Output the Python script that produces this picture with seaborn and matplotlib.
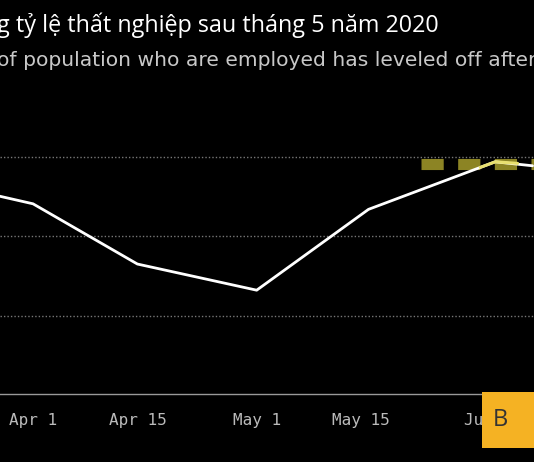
import pandas as pd
import numpy as np
import matplotlib
matplotlib.use("Agg")
import matplotlib.pyplot as plt
import seaborn as sns

# Data
dates = pd.to_datetime(["2020-03-25", "2020-04-01", "2020-04-15", "2020-05-01",
                        "2020-05-16", "2020-06-02", "2020-06-07"])
values = [2.56, 2.41, 1.65, 1.32, 2.34, 2.94, 2.89]
highlight_dates = pd.to_datetime(["2020-05-31", "2020-06-02", "2020-06-05"])
highlight_values = [2.87, 2.94, 2.92]
ref_dates = pd.to_datetime(["2020-05-23", "2020-06-08"])
ref_values = [2.91, 2.91]
grid_levels = [1, 2, 3]
tick_dates = pd.to_datetime(["2020-04-01", "2020-04-15", "2020-05-01", "2020-05-15", "2020-06-01"])
tick_labels = ["Apr 1", "Apr 15", "May 1", "May 15", "Jun 1"]

sns.set_theme(style="dark")
plt.rcParams["font.family"] = ["Open Sans", "DejaVu Sans"]

fig = plt.figure(figsize=(5.34, 4.62), dpi=100, facecolor="black")
ax = fig.add_axes([0, 68 / 462, 1, 294 / 462])
ax.set_facecolor("black")

for g in grid_levels:
    ax.axhline(g, color="#777777", lw=1, ls=(0, (1, 1.5)), zorder=1)

ref = pd.DataFrame({"date": ref_dates, "v": ref_values})
sns.lineplot(data=ref, x="date", y="v", ax=ax, color="#8c8424", lw=8, zorder=2)
ax.lines[-1].set_linestyle((0, (2.0, 1.3)))

df = pd.DataFrame({"date": dates, "v": values})
sns.lineplot(data=df, x="date", y="v", ax=ax, color="white", lw=2, zorder=3)
hl = pd.DataFrame({"date": highlight_dates, "v": highlight_values})
sns.lineplot(data=hl, x="date", y="v", ax=ax, color="#e8e070", lw=2.2, zorder=4)

x0 = pd.Timestamp("2020-04-01")
ax.set_xlim(x0 - pd.Timedelta(days=4.43), x0 + pd.Timedelta(days=67.2))
ax.set_ylim(0.01, 3.72)
ax.set_xticks(tick_dates)
ax.set_xticklabels(tick_labels, fontsize=11.5, family="DejaVu Sans Mono")
ax.set_yticks([])
ax.tick_params(axis="x", colors="#999999", length=4, pad=10, labelcolor="#bbbbbb")
ax.set_xlabel("")
ax.set_ylabel("")
for s in ["top", "right", "left"]:
    ax.spines[s].set_visible(False)
ax.spines["bottom"].set_color("#999999")
ax.spines["bottom"].set_linewidth(1)
ax.grid(False)

fig.text(-0.005, 1 - 32 / 462, "g tỷ lệ thất nghiệp sau tháng 5 năm 2020",
         color="white", fontsize=16.8, ha="left", va="baseline")
fig.text(-0.005, 1 - 66 / 462, "of population who are employed has leveled off after",
         color="#c8c8c8", fontsize=14.6, ha="left", va="baseline", family="DejaVu Sans")

# Bloomberg logo box, drawn on top of the last tick label
logo = fig.add_axes([482 / 534, 14 / 462, 60 / 534, 56 / 462])
logo.set_facecolor("#f5b223")
logo.set_xticks([])
logo.set_yticks([])
for s in logo.spines.values():
    s.set_visible(False)
logo.text(0.3, 0.5, "B", color="#333333", fontsize=17, ha="center", va="center",
          transform=logo.transAxes)

fig.savefig("out.png", dpi=100, facecolor="black")
